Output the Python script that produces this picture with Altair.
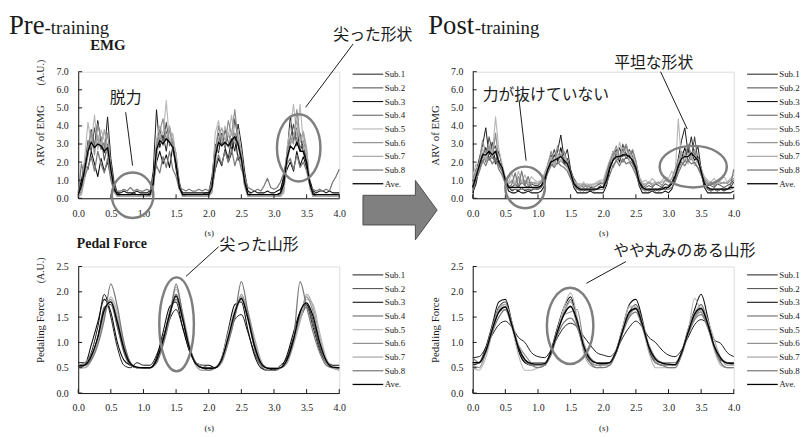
import altair as alt
import pandas as pd

SERIF = "Liberation Serif"
JP = "Noto Sans CJK JP"
INK = "#1a1a1a"

series = ["Sub.1", "Sub.2", "Sub.3", "Sub.4", "Sub.5", "Sub.6", "Sub.7", "Sub.8", "Ave."]
line_colors = ["#1a1a1a", "#4d4d4d", "#0d0d0d", "#6b6b6b", "#b8b8b8", "#8f8f8f", "#a8a8a8", "#7a7a7a", "#000000"]
line_widths = [1.0, 1.3, 1.0, 2.0, 1.5, 1.0, 1.8, 1.0, 1.4]

x_ticks = [0.0, 0.5, 1.0, 1.5, 2.0, 2.5, 3.0, 3.5, 4.0]
emg_ticks = [0.0, 1.0, 2.0, 3.0, 4.0, 5.0, 6.0, 7.0]
force_ticks = [0.0, 0.5, 1.0, 1.5, 2.0, 2.5]

t_emg = [round(i * 0.05, 2) for i in range(81)]
t_force = [round(i * 0.1, 1) for i in range(41)]

pre_emg = {
    "Sub.1": [0.3,0.9,1.6,2.4,3.8,2.9,4.3,3.1,2.5,4.5,2.2,0.9,0.3,0.2,0.2,0.2,0.2,0.3,0.2,0.2,
              0.2,0.2,0.3,1.5,4.9,2.8,3.5,2.6,3.9,3.0,2.1,0.8,0.2,0.2,0.2,0.2,0.2,0.2,0.2,0.3,
              0.3,1.2,3.0,2.5,3.6,2.8,2.2,3.3,2.6,4.1,3.0,1.5,0.4,0.2,0.2,0.2,0.2,0.2,0.2,0.2,
              0.2,0.2,0.3,1.3,2.4,4.5,3.2,3.9,2.6,3.1,1.8,0.8,0.3,0.2,0.2,0.2,0.2,0.2,0.2,0.2,
              0.2],
    "Sub.2": [0.2,0.6,1.8,3.2,2.6,3.9,2.8,3.4,2.1,3.0,1.9,0.7,0.2,0.1,0.1,0.1,0.1,0.1,0.1,0.1,
              0.1,0.1,0.2,0.9,2.9,3.8,3.1,4.2,2.9,3.3,2.4,0.9,0.2,0.1,0.1,0.1,0.1,0.1,0.1,0.1,
              0.1,0.8,2.7,3.6,2.9,3.8,3.1,2.7,4.4,3.2,2.6,1.0,0.2,0.1,0.1,0.1,0.1,0.1,0.1,0.1,
              0.1,0.1,0.2,0.8,2.6,3.3,4.1,2.9,3.6,2.5,2.0,0.9,0.2,0.1,0.1,0.1,0.1,0.1,0.1,0.1,
              0.1],
    "Sub.3": [0.4,1.0,2.0,1.6,2.6,1.9,1.2,2.2,1.5,2.0,1.3,0.5,0.3,0.3,0.4,0.3,0.3,0.3,0.4,0.3,
              0.3,0.3,0.4,0.8,2.0,2.6,1.9,2.4,1.7,2.9,1.6,0.6,0.3,0.3,0.3,0.3,0.3,0.3,0.3,0.3,
              0.3,0.5,1.6,2.2,1.8,2.7,2.0,2.5,3.6,2.1,2.4,0.9,0.4,0.3,0.4,0.3,0.3,0.3,0.4,0.3,
              0.3,0.4,0.5,1.1,1.6,2.0,1.5,2.6,1.8,2.3,1.7,1.0,0.4,0.3,0.4,0.4,0.3,0.4,0.3,0.3,
              0.3],
    "Sub.4": [0.1,0.4,1.5,2.8,3.5,3.0,3.3,2.7,3.1,2.4,1.5,0.4,0.1,0.1,0.1,0.1,0.1,0.1,0.1,0.1,
              0.1,0.1,0.1,0.6,2.4,3.4,3.0,3.7,3.2,2.8,1.9,0.6,0.1,0.1,0.1,0.1,0.1,0.1,0.1,0.1,
              0.1,0.5,2.2,3.1,3.5,2.8,3.6,3.0,3.3,2.9,2.0,0.7,0.1,0.1,0.1,0.1,0.1,0.1,0.1,0.1,
              0.1,0.1,0.1,0.5,2.2,3.0,3.6,3.3,2.8,3.2,2.1,0.6,0.1,0.1,0.1,0.1,0.1,0.1,0.1,0.1,
              0.1],
    "Sub.5": [0.1,0.3,2.3,4.2,3.0,4.6,2.7,3.8,3.2,2.5,1.2,0.3,0.1,0.1,0.1,0.1,0.1,0.1,0.1,0.1,
              0.1,0.1,0.1,0.5,3.3,4.0,3.5,5.4,3.0,3.6,2.2,0.5,0.1,0.1,0.1,0.1,0.1,0.1,0.1,0.1,
              0.1,0.6,3.6,4.3,3.1,4.0,3.4,4.6,3.3,3.8,2.3,0.6,0.1,0.1,0.1,0.1,0.1,0.1,0.1,0.1,
              0.1,0.1,0.1,0.4,2.8,3.9,5.2,3.4,5.2,3.0,2.4,0.5,0.1,0.1,0.1,0.1,0.1,0.1,0.1,0.1,
              0.1],
    "Sub.6": [0.2,0.5,1.3,2.9,3.7,2.4,4.1,3.3,2.6,3.6,1.8,0.5,0.2,0.2,0.2,0.2,0.2,0.2,0.2,0.2,
              0.2,0.2,0.2,0.7,3.0,3.7,4.4,3.2,3.9,2.7,2.0,0.6,0.2,0.2,0.2,0.2,0.2,0.2,0.2,0.2,
              0.2,0.4,2.5,4.0,3.3,2.9,4.3,3.5,4.9,3.1,2.5,0.8,0.2,0.2,0.2,0.2,0.2,0.2,0.2,0.2,
              0.2,0.2,0.2,0.6,2.5,3.4,3.0,4.9,3.3,3.6,2.6,0.7,0.2,0.2,0.2,0.2,0.2,0.2,0.2,0.2,
              0.2],
    "Sub.7": [0.1,0.2,1.1,2.5,3.2,2.8,3.5,2.9,3.8,2.7,1.6,0.4,0.1,0.1,0.1,0.1,0.1,0.1,0.1,0.1,
              0.1,0.1,0.1,0.4,2.2,3.6,2.9,3.3,4.0,3.1,2.5,0.7,0.1,0.1,0.1,0.1,0.1,0.1,0.1,0.1,
              0.1,0.3,1.9,3.3,3.9,3.2,2.8,3.7,3.0,3.4,2.6,0.9,0.1,0.1,0.1,0.1,0.1,0.1,0.1,0.1,
              0.1,0.1,0.1,0.3,2.0,2.9,3.5,4.3,3.1,3.7,2.8,0.8,0.1,0.1,0.1,0.1,0.1,0.1,0.1,0.1,
              0.1],
    "Sub.8": [0.3,1.9,1.2,1.7,2.3,1.5,2.6,1.9,1.4,2.2,1.0,0.4,0.4,0.4,0.5,0.4,0.6,0.4,0.5,0.4,
              0.4,0.5,0.4,1.2,1.8,1.4,2.3,1.7,2.6,1.6,1.2,0.5,0.5,0.4,0.5,0.4,0.4,0.5,0.4,0.5,
              0.4,0.9,1.7,2.4,1.9,2.6,2.0,2.7,1.8,2.4,1.6,1.2,0.6,0.5,0.4,0.5,0.4,0.7,1.1,0.6,
              0.5,0.6,0.9,1.4,1.9,2.2,1.6,2.4,1.7,2.0,1.5,0.7,0.5,0.4,0.5,0.4,0.5,0.4,0.9,1.2,
              1.6],
    "Ave.":  [0.2,0.7,1.6,2.6,3.1,2.8,3.0,2.9,2.6,2.8,1.6,0.5,0.2,0.2,0.2,0.2,0.2,0.2,0.2,0.2,
              0.2,0.2,0.2,0.8,2.7,3.2,3.0,3.3,3.1,2.8,1.9,0.6,0.2,0.2,0.2,0.2,0.2,0.2,0.2,0.2,
              0.2,0.6,2.3,3.1,2.9,3.1,2.9,3.2,3.4,3.0,2.2,0.9,0.2,0.2,0.2,0.2,0.2,0.2,0.2,0.2,
              0.2,0.2,0.3,0.8,2.2,2.9,2.7,3.1,2.6,2.6,2.0,0.8,0.2,0.2,0.2,0.2,0.2,0.2,0.2,0.2,
              0.2],
}

post_emg = {
    "Sub.1": [0.6,1.4,2.2,2.9,3.9,2.4,3.1,2.0,2.6,1.8,1.1,0.6,0.4,0.5,0.4,0.6,0.4,0.5,0.4,0.6,
              0.5,0.6,1.0,1.9,2.4,1.8,2.6,3.5,2.2,2.7,1.6,1.0,0.6,0.5,0.4,0.5,0.4,0.5,0.5,0.7,
              0.6,1.1,1.9,2.6,2.1,2.8,2.3,2.9,2.2,2.6,2.0,1.2,0.6,0.5,0.4,0.5,0.4,0.5,0.6,0.5,
              0.6,0.8,1.4,2.2,3.2,3.9,2.5,3.4,2.3,2.9,1.6,0.9,0.5,0.4,0.5,0.4,0.5,0.4,0.5,0.6,
              0.9],
    "Sub.2": [0.9,1.6,1.8,2.5,2.0,3.4,2.6,2.9,1.9,1.5,1.0,0.7,0.6,0.8,0.6,0.9,0.7,0.6,0.8,0.7,
              0.7,0.9,1.3,1.7,2.1,2.7,2.0,2.4,1.9,2.2,1.5,1.1,0.8,0.7,0.6,0.7,0.6,0.6,0.7,0.8,
              0.8,1.3,1.7,2.3,2.7,2.2,3.0,2.4,2.7,2.3,1.8,1.0,0.7,0.6,0.7,0.6,0.8,0.7,0.6,0.8,
              0.7,0.9,1.2,1.8,2.4,2.0,2.9,2.2,3.4,2.1,1.7,1.0,0.8,0.7,0.6,0.8,0.7,0.6,0.7,0.8,
              1.0],
    "Sub.3": [0.3,0.8,1.7,2.3,2.8,2.2,2.5,1.9,2.1,1.6,0.9,0.4,0.3,0.3,0.4,0.3,0.3,0.4,0.3,0.3,
              0.3,0.4,0.7,1.6,2.0,2.4,2.1,2.8,2.0,1.8,1.3,0.6,0.3,0.3,0.3,0.3,0.4,0.3,0.3,0.3,
              0.3,0.7,1.6,2.1,2.5,2.0,2.7,2.2,2.4,2.0,1.6,0.7,0.3,0.3,0.3,0.4,0.3,0.3,0.3,0.4,
              0.3,0.5,1.0,1.7,2.2,2.8,2.0,2.5,2.1,2.3,1.4,0.6,0.3,0.3,0.3,0.3,0.3,0.3,0.3,0.3,
              0.4],
    "Sub.4": [0.5,1.0,1.5,2.0,2.4,2.1,2.3,2.0,1.8,1.5,1.0,0.6,0.5,0.5,0.5,0.5,0.5,0.5,0.5,0.5,
              0.5,0.6,0.9,1.4,1.8,2.0,1.9,2.1,1.9,1.7,1.3,0.8,0.5,0.5,0.5,0.5,0.5,0.5,0.5,0.5,
              0.5,0.8,1.3,1.8,2.1,2.2,2.0,2.3,2.1,1.9,1.5,0.9,0.5,0.5,0.5,0.5,0.5,0.5,0.5,0.5,
              0.5,0.6,0.9,1.4,1.8,2.1,2.0,2.2,1.9,1.7,1.3,0.8,0.5,0.5,0.5,0.5,0.5,0.5,0.5,0.5,
              0.6],
    "Sub.5": [1.2,1.9,1.4,2.8,2.2,3.0,2.4,4.5,2.7,1.9,1.2,0.9,1.4,0.8,1.5,0.9,1.3,0.8,1.2,1.0,
              0.9,1.0,1.4,1.9,2.3,1.8,2.5,2.0,2.4,1.7,1.3,0.9,0.8,0.7,0.9,0.6,0.8,0.7,0.9,1.0,
              1.0,1.6,2.1,2.6,2.0,3.1,2.4,2.8,2.1,2.5,1.9,1.2,0.9,1.0,0.8,1.1,0.9,0.8,1.0,1.2,
              1.1,1.5,1.2,4.4,2.0,2.6,1.9,2.4,1.8,2.2,1.6,1.2,1.0,0.9,1.1,0.8,1.0,1.2,0.9,1.1,
              1.3],
    "Sub.6": [0.7,1.3,2.0,3.2,2.5,2.9,2.2,3.6,2.0,1.7,1.0,0.8,1.0,0.7,1.2,0.8,1.0,0.7,0.9,0.8,
              0.8,0.9,1.2,1.8,2.6,2.0,2.9,2.3,2.6,2.0,1.4,0.9,0.7,0.6,0.8,0.6,0.7,0.6,0.7,0.9,
              0.8,1.2,2.0,2.4,2.9,2.3,2.6,3.0,2.4,2.7,2.1,1.1,0.8,0.7,0.9,0.7,0.8,0.9,0.7,1.0,
              0.9,1.1,1.6,2.1,2.6,2.3,3.0,2.4,2.7,2.0,1.6,1.0,0.8,0.9,0.7,1.0,0.8,0.9,0.8,1.0,
              1.1],
    "Sub.7": [0.9,1.5,1.9,2.4,2.1,2.7,2.3,2.5,2.0,1.6,1.1,0.8,0.9,0.8,1.0,0.9,0.8,0.9,0.8,0.9,
              0.8,1.0,1.3,1.8,2.2,1.9,2.3,2.1,2.2,1.8,1.4,1.0,0.8,0.8,0.7,0.8,0.7,0.8,0.8,0.9,
              0.9,1.3,1.8,2.3,2.5,2.2,2.6,2.3,2.5,2.2,1.8,1.1,0.8,0.8,0.9,0.8,0.9,0.8,0.9,1.0,
              0.9,1.1,1.4,1.9,2.3,2.1,2.5,2.2,2.4,2.0,1.6,1.1,0.9,0.8,0.9,0.8,0.9,0.8,0.9,1.0,
              1.0],
    "Sub.8": [0.4,1.0,1.5,2.1,1.8,2.3,1.9,2.2,1.6,1.3,0.8,0.5,0.8,1.4,0.6,1.5,0.7,1.2,0.6,0.5,
              0.5,0.7,1.1,1.6,1.9,1.7,2.0,1.8,1.7,1.5,1.1,0.7,0.5,0.4,0.5,0.4,0.5,0.4,0.5,0.6,
              0.6,1.4,2.0,1.7,2.1,1.8,2.2,1.9,2.0,1.7,1.3,0.8,0.5,0.4,0.5,0.4,0.5,0.4,0.5,0.6,
              0.6,0.8,1.1,1.6,2.0,1.8,2.1,1.9,2.0,1.7,1.3,0.8,0.5,0.4,0.5,0.4,0.5,0.6,0.5,0.7,
              1.6],
    "Ave.":  [0.6,1.2,1.8,2.4,2.4,2.6,2.4,2.6,2.0,1.7,1.0,0.6,0.6,0.6,0.6,0.6,0.6,0.6,0.6,0.6,
              0.6,0.7,1.0,1.6,2.0,2.1,2.2,2.3,2.1,1.9,1.4,0.8,0.6,0.5,0.5,0.5,0.5,0.5,0.5,0.6,
              0.6,1.0,1.7,2.1,2.3,2.3,2.4,2.4,2.3,2.1,1.7,0.9,0.6,0.5,0.5,0.5,0.5,0.5,0.5,0.6,
              0.6,0.8,1.2,1.8,2.2,2.3,2.3,2.5,2.3,2.1,1.5,0.8,0.6,0.5,0.5,0.5,0.5,0.5,0.5,0.6,
              0.6],
}

pre_force = {
    "Sub.1": [0.6,0.6,0.8,1.3,1.95,1.5,0.9,0.55,0.5,0.6, 0.55,0.55,0.75,1.1,1.45,1.65,1.3,0.85,0.6,0.5,
              0.5,0.5,0.7,1.1,1.45,1.55,1.2,0.8,0.55,0.5, 0.45,0.55,0.7,1.1,1.45,1.7,1.3,0.85,0.6,0.5, 0.5],
    "Sub.2": [0.55,0.55,0.7,1.1,1.7,1.75,1.3,0.8,0.55,0.5, 0.5,0.5,0.65,1.05,1.6,1.95,1.5,0.9,0.6,0.5,
              0.5,0.5,0.65,1.1,1.6,1.9,1.5,0.95,0.6,0.5, 0.5,0.5,0.65,1.05,1.5,1.75,1.4,0.9,0.6,0.5, 0.5],
    "Sub.3": [0.5,0.55,0.95,1.4,1.85,1.6,1.0,0.65,0.55,0.5, 0.5,0.5,0.7,1.2,1.7,1.8,1.3,0.85,0.6,0.55,
              0.55,0.5,0.7,1.25,1.75,1.8,1.25,0.75,0.5,0.45, 0.45,0.5,0.75,1.2,1.6,1.75,1.4,0.95,0.65,0.55, 0.55],
    "Sub.4": [0.5,0.55,0.7,1.1,1.65,1.8,1.35,0.85,0.55,0.5, 0.5,0.5,0.65,1.05,1.55,1.85,1.45,0.9,0.6,0.5,
              0.5,0.5,0.65,1.05,1.55,1.85,1.45,0.9,0.6,0.5, 0.5,0.5,0.65,1.05,1.55,1.7,1.4,0.95,0.65,0.5, 0.5],
    "Sub.5": [0.5,0.5,0.65,1.0,1.5,1.9,1.6,1.0,0.6,0.5, 0.5,0.5,0.6,0.95,1.5,2.05,1.6,1.0,0.55,0.45,
              0.45,0.5,0.7,1.2,1.65,1.9,1.6,1.05,0.6,0.5, 0.5,0.5,0.6,0.95,1.4,1.85,1.75,1.2,0.7,0.5, 0.45],
    "Sub.6": [0.55,0.6,0.75,1.05,1.6,1.85,1.45,0.9,0.6,0.5, 0.5,0.5,0.6,1.0,1.55,1.9,1.5,0.95,0.6,0.55,
              0.5,0.5,0.6,1.0,1.5,1.95,1.6,1.0,0.6,0.5, 0.5,0.5,0.6,1.0,1.5,1.9,1.6,1.0,0.6,0.5, 0.5],
    "Sub.7": [0.5,0.5,0.65,1.05,1.55,1.8,1.5,0.95,0.6,0.5, 0.5,0.5,0.6,1.0,1.55,2.1,1.55,0.95,0.55,0.45,
              0.45,0.5,0.65,1.05,1.55,1.9,1.6,1.1,0.65,0.5, 0.5,0.5,0.6,1.0,1.45,1.95,1.7,1.1,0.65,0.5, 0.45],
    "Sub.8": [0.55,0.55,0.65,0.95,1.45,2.15,1.7,1.0,0.6,0.5, 0.5,0.5,0.6,0.95,1.45,2.15,1.55,0.9,0.6,0.5,
              0.45,0.5,0.65,1.0,1.5,2.2,1.6,0.9,0.55,0.45, 0.45,0.5,0.65,1.05,2.2,1.7,1.2,0.8,0.55,0.5, 0.5],
    "Ave.":  [0.53,0.55,0.73,1.1,1.64,1.8,1.4,0.88,0.58,0.51, 0.5,0.5,0.65,1.04,1.55,1.92,1.47,0.91,0.58,0.5,
              0.49,0.5,0.67,1.1,1.59,1.87,1.48,0.94,0.59,0.49, 0.48,0.5,0.66,1.06,1.6,1.78,1.51,1.0,0.64,0.51, 0.5],
}

post_force = {
    "Sub.1": [0.7,0.72,0.9,1.15,1.35,1.42,1.3,1.1,1.0,0.8, 0.72,0.7,0.85,1.1,1.3,1.38,1.3,1.12,0.95,0.8,
              0.75,0.72,0.85,1.1,1.3,1.42,1.3,1.1,1.0,0.85, 0.75,0.72,0.85,1.1,1.35,1.45,1.35,1.05,0.98,0.8, 0.72],
    "Sub.2": [0.6,0.6,0.85,1.3,1.7,1.8,1.35,0.85,0.6,0.55, 0.55,0.55,0.8,1.25,1.6,1.85,1.4,0.85,0.6,0.55,
              0.55,0.6,0.8,1.25,1.6,1.75,1.4,0.85,0.6,0.55, 0.55,0.55,0.8,1.2,1.55,1.75,1.4,0.9,0.65,0.6, 0.6],
    "Sub.3": [0.55,0.6,0.9,1.35,1.8,1.85,1.4,0.85,0.6,0.55, 0.55,0.55,0.85,1.3,1.7,1.9,1.45,0.9,0.65,0.6,
              0.6,0.6,0.85,1.3,1.75,1.85,1.45,0.85,0.65,0.6, 0.55,0.55,0.8,1.25,1.65,1.95,1.5,0.9,0.65,0.6, 0.6],
    "Sub.4": [0.6,0.6,0.85,1.25,1.6,1.7,1.35,0.9,0.65,0.6, 0.6,0.6,0.8,1.2,1.55,1.72,1.35,0.9,0.65,0.6,
              0.6,0.6,0.8,1.2,1.55,1.68,1.35,0.9,0.65,0.6, 0.6,0.6,0.8,1.2,1.5,1.65,1.35,0.9,0.65,0.6, 0.6],
    "Sub.5": [0.5,0.45,0.7,1.2,1.65,1.75,1.3,0.75,0.45,0.45, 0.5,0.55,0.8,1.25,1.7,1.98,1.5,0.8,0.55,0.5,
              0.55,0.6,0.85,1.3,1.72,1.7,1.3,0.8,0.5,0.5, 0.5,0.5,0.75,1.2,1.87,1.6,1.35,0.85,0.55,0.5, 0.5],
    "Sub.6": [0.55,0.5,0.8,1.25,1.6,1.65,1.3,0.95,0.75,0.6, 0.55,0.55,0.8,1.2,1.55,1.6,1.65,1.0,0.7,0.6,
              0.55,0.6,0.85,1.25,1.55,1.65,1.3,0.95,0.7,0.6, 0.55,0.55,0.8,1.2,1.5,1.6,1.3,0.95,0.7,0.6, 0.55],
    "Sub.7": [0.6,0.6,0.85,1.3,1.65,1.75,1.4,0.95,0.65,0.55, 0.55,0.55,0.8,1.25,1.6,1.8,1.45,0.95,0.65,0.55,
              0.55,0.55,0.85,1.3,1.7,1.7,1.4,0.95,0.65,0.55, 0.55,0.55,0.8,1.25,1.6,1.7,1.45,1.05,0.7,0.55, 0.55],
    "Sub.8": [0.7,0.6,0.8,1.2,1.5,1.65,1.35,0.9,0.65,0.55, 0.5,0.55,0.75,1.15,1.4,1.48,1.3,0.9,0.6,0.5,
              0.5,0.55,0.8,1.2,1.5,1.6,1.3,0.9,0.6,0.55, 0.5,0.5,0.75,1.15,1.45,1.55,1.3,0.9,0.6,0.5, 0.5],
    "Ave.":  [0.6,0.6,0.83,1.26,1.6,1.7,1.34,0.9,0.66,0.58, 0.57,0.58,0.81,1.22,1.56,1.71,1.43,0.93,0.67,0.59,
              0.58,0.6,0.83,1.24,1.6,1.67,1.36,0.91,0.67,0.59, 0.57,0.56,0.8,1.2,1.56,1.67,1.37,0.93,0.69,0.59, 0.58],
}

W, H = 264, 128


def long_df(t, table):
    rows = []
    for s in series:
        vals = table[s]
        assert len(vals) == len(t), (s, len(vals), len(t))
        for tt, v in zip(t, vals):
            rows.append({"t": tt, "v": v, "series": s})
    return pd.DataFrame(rows)


def txt(label, x, y, size, font=JP, weight="normal", align="center", baseline="middle", angle=0):
    return alt.Chart(pd.DataFrame({"label": [label]})).mark_text(
        font=font, fontSize=size, fontWeight=weight, align=align, baseline=baseline,
        angle=angle, color=INK
    ).encode(x=alt.value(x), y=alt.value(y), text="label:N")


def leader(x1, y1, x2, y2):
    return alt.Chart(pd.DataFrame({"k": [0]})).mark_rule(color=INK, strokeWidth=1).encode(
        x=alt.value(x1), y=alt.value(y1), x2=alt.value(x2), y2=alt.value(y2))


def ellipse(cx, cy, rx, ry):
    path = f"M{-rx},0A{rx},{ry} 0 1 0 {rx},0A{rx},{ry} 0 1 0 {-rx},0Z"
    return alt.Chart(pd.DataFrame({"k": [0]})).mark_point(
        shape=path, size=4, filled=False, stroke="#7f7f7f", strokeWidth=2.5, opacity=1
    ).encode(x=alt.value(cx), y=alt.value(cy))


def arrow(cx, cy):
    path = "M-37,-15H16V-30L38,0L16,30V15H-37Z"
    return alt.Chart(pd.DataFrame({"k": [0]})).mark_point(
        shape=path, size=4, filled=True, fill="#808080", stroke="#4d4d4d", strokeWidth=1, opacity=1
    ).encode(x=alt.value(cx), y=alt.value(cy))


def panel(t, table, ymax, yticks, interp, ytitle, legend_y, extras):
    df = long_df(t, table)
    leg = alt.Legend(
        orient="none", legendX=301, legendY=legend_y, title=None,
        symbolType="M-14,0H1.5", symbolSize=16,
        labelFont=SERIF, labelFontSize=9, labelColor=INK, labelOffset=0,
        rowPadding=3.85, padding=0,
    )
    x_axis = alt.Axis(
        values=x_ticks, format=".1f", title="(s)", ticks=False, grid=False,
        domainColor=INK, labelFont=SERIF, labelFontSize=10, labelColor=INK,
        labelPadding=10, labelFlush=False, labelOverlap=False,
        titleFont=SERIF, titleFontSize=9, titleFontWeight="normal", titleColor=INK,
        titleY=35, titleBaseline="middle",
    )
    y_axis = alt.Axis(
        values=yticks, format=".1f", title=ytitle, ticks=False, grid=False,
        domainColor=INK, labelFont=SERIF, labelFontSize=10, labelColor=INK,
        labelPadding=10, labelOverlap=False,
        titleFont=SERIF, titleFontSize=11, titleFontWeight="normal", titleColor=INK,
        titleX=-38, titleY=H / 2, titleAngle=270, titleAlign="center", titleBaseline="middle",
    )
    xscale = alt.Scale(domain=[0, 4], nice=False, zero=False)
    yscale = alt.Scale(domain=[0, ymax], nice=False)
    lines = alt.Chart(df).mark_line(interpolate=interp, strokeJoin="round").encode(
        x=alt.X("t:Q", scale=xscale, axis=x_axis),
        y=alt.Y("v:Q", scale=yscale, axis=y_axis),
        color=alt.Color("series:N", scale=alt.Scale(domain=series, range=line_colors), legend=leg),
        strokeWidth=alt.StrokeWidth("series:N", scale=alt.Scale(domain=series, range=line_widths), legend=leg),
    )
    xt = alt.Chart(pd.DataFrame({"t": x_ticks})).mark_rule(color=INK, strokeWidth=1).encode(
        x=alt.X("t:Q", scale=xscale, axis=x_axis), y=alt.value(H), y2=alt.value(H - 4))
    yt = alt.Chart(pd.DataFrame({"v": yticks})).mark_rule(color=INK, strokeWidth=1).encode(
        y=alt.Y("v:Q", scale=yscale, axis=y_axis), x=alt.value(0), x2=alt.value(4))
    return alt.layer(lines, xt, yt, *extras).properties(width=W, height=H)


tl = panel(t_emg, pre_emg, 7, emg_ticks, "linear", "ARV of EMG", -2, [
    txt("Pre", -70, -38, 27, font=SERIF, align="left", baseline="alphabetic"),
    txt("-training", -34, -38, 19, font=SERIF, align="left", baseline="alphabetic"),
    txt("EMG", 30, -27, 15, font=SERIF, weight="bold"),
    txt("(A.U.)", -38, 1, 10, font=SERIF, angle=270),
    txt("脱力", 48, 27, 16),
    leader(48, 41, 55, 95),
    ellipse(55, 125, 21, 23),
    txt("尖った形状", 298, -37, 16),
    leader(278, -28, 230, 36),
    ellipse(223, 77, 22, 34),
    arrow(325, 140),
])

tr = panel(t_emg, post_emg, 7, emg_ticks, "linear", "ARV of EMG", -2, [
    txt("Post", -45, -38, 27, font=SERIF, align="left", baseline="alphabetic"),
    txt("-training", 2, -38, 19, font=SERIF, align="left", baseline="alphabetic"),
    txt("力が抜けていない", 74, 24, 16),
    leader(47, 30, 54, 90),
    ellipse(53, 117, 20, 21),
    txt("平坦な形状", 183, -9, 16),
    leader(190, 0, 217, 58),
    ellipse(223, 96, 34, 21),
])

bl = panel(t_force, pre_force, 2.5, force_ticks, "monotone", "Pedaling Force", 4, [
    txt("Pedal Force", 34, -23, 14, font=SERIF, weight="bold"),
    txt("(A.U.)", -38, 4, 10, font=SERIF, angle=270),
    txt("尖った山形", 183, -22, 16),
    leader(142, -20, 109, 10),
    ellipse(99.5, 58.5, 17.5, 47.5),
])

br = panel(t_force, post_force, 2.5, force_ticks, "monotone", "Pedaling Force", 4, [
    txt("やや丸みのある山形", 214, -16, 16),
    leader(155, -5, 115, 17),
    ellipse(98.5, 60, 23.5, 38.5),
])

chart = alt.concat(
    tl, tr, bl, br, columns=2, spacing={"row": 69, "column": 135}, bounds="flush"
).resolve_scale(
    x="independent", y="independent", color="independent", strokeWidth="independent"
).resolve_legend(
    color="independent", strokeWidth="independent"
).properties(
    padding={"left": 0, "top": 1, "right": 0, "bottom": 0}
).configure_view(stroke=None).configure(background="white")

chart.save("out.html", embed_options={"renderer": "svg", "actions": False})
